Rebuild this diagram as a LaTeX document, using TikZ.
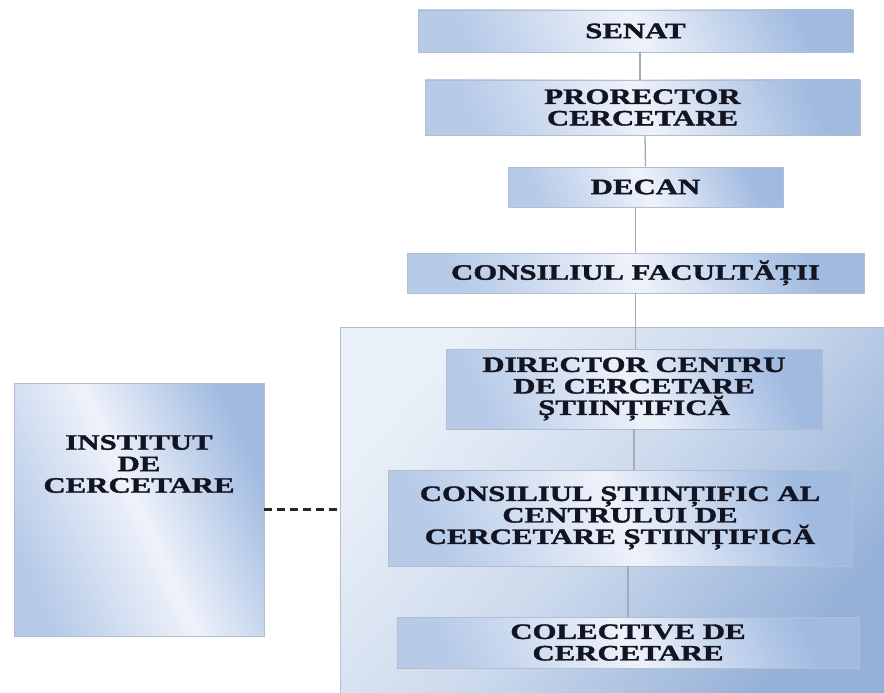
\documentclass[tikz,border=0pt]{standalone}
\usepackage{fontspec}
\newfontfamily\boxfont[FakeStretch=1.4,BoldFont={Liberation Serif Bold},BoldFeatures={FakeBold=1.6}]{Liberation Serif}
\definecolor{boxblue}{RGB}{160,186,224}
\definecolor{boxlight}{RGB}{238,242,250}
\definecolor{boxborder}{RGB}{178,190,208}
\definecolor{contblue}{RGB}{150,177,216}
\definecolor{contlight}{RGB}{234,240,248}
\definecolor{txtcol}{RGB}{18,20,34}
\definecolor{conncol}{RGB}{165,170,182}
\tikzset{
  box/.style={draw=boxborder, line width=0.9pt, inner sep=0pt,
    top color=boxblue, bottom color=boxblue!70!boxlight, middle color=boxlight, shading angle=-65,
    font=\boxfont\bfseries\fontsize{22}{21.5}\selectfont, text=txtcol, align=center},
  container/.style={draw=boxborder, line width=0.9pt, inner sep=0pt,
    top color=contlight, bottom color=contblue, middle color=contlight!65!contblue, shading angle=50},
  boxtext/.style={font=\boxfont\bfseries\fontsize{22}{21.5}\selectfont, text=txtcol, align=center, inner sep=0pt},
  conn/.style={draw=conncol, line width=1.3pt},
  dashconn/.style={draw=black!85, line width=2.2pt, dash pattern=on 8pt off 5pt}
}
\begin{document}
\begin{tikzpicture}[x=1pt,y=-1pt]
\useasboundingbox[fill=white] (0,0) rectangle (884,693);
% container
\node[container, minimum width=544pt, minimum height=366pt] (centru) at (612,510) {};
% top chain
\node[box, minimum width=435pt, minimum height=42pt] (senat) at (635.5,31) {SENAT};
\node[box, minimum width=435pt, minimum height=55pt] (pror) at (642.5,107.5) {PRORECTOR\\CERCETARE};
\node[box, minimum width=275pt, minimum height=40pt] (decan) at (645.5,187) {DECAN};
\node[box, minimum width=457pt, minimum height=40pt] (cf) at (635.5,273) {CONSILIUL FACULTĂȚII};
% inside container
\node[box, minimum width=376pt, minimum height=80pt] (dir) at (634,389) {DIRECTOR CENTRU\\DE CERCETARE\\ȘTIINȚIFICĂ};
\node[box, minimum width=464pt, minimum height=96pt] (cs) at (620,518) {CONSILIUL ȘTIINȚIFIC AL\\CENTRULUI DE\\CERCETARE ȘTIINȚIFICĂ};
\node[box, minimum width=462pt, minimum height=51pt] (col) at (628,642.5) {COLECTIVE DE\\CERCETARE};
% institute
\node[box, minimum width=250pt, minimum height=253pt] (inst) at (139,509.5) {};
\node[boxtext] (insttxt) at (139,464) {INSTITUT\\DE\\CERCETARE};
% connectors
\draw[conn] ([xshift=4.5pt]senat.south) -- ([xshift=-2.5pt]pror.north);
\draw[conn] ([xshift=2.5pt]pror.south) -- (decan.north);
\draw[conn] ([xshift=-10pt]decan.south) -- (cf.north);
\draw[conn] (cf.south) -- (cf.south |- dir.north);
\draw[conn] (dir.south) -- (dir.south |- cs.north);
\draw[conn] (col.north |- cs.south) -- (col.north);
\draw[dashconn] (inst.east) -- (inst.east -| centru.west);
\end{tikzpicture}
\end{document}
